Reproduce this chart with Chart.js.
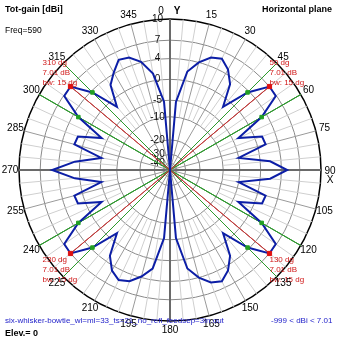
<!DOCTYPE html>
<html>
<head>
<meta charset="utf-8">
<script src="https://cdn.jsdelivr.net/npm/chart.js@4.4.1/dist/chart.umd.min.js"></script>
<style>
body { margin: 0; background: #fff; }
#wrap { position: relative; width: 339px; height: 339px; font-family: "Liberation Sans", Arial, sans-serif; }
#wrap div { position: absolute; white-space: nowrap; line-height: 10px; }
canvas { position: absolute; left: 0; top: 0; }
</style>
</head>
<body>
<div id="wrap">
<canvas id="polar" width="339" height="339"></canvas>
<div style="left:5px;top:4px;font-weight:bold;font-size:9px">Tot-gain [dBi]</div>
<div style="left:5px;top:25px;font-size:8.5px">Freq=590</div>
<div style="left:262px;top:4px;font-weight:bold;font-size:9px">Horizontal plane</div>
<div style="left:5px;top:316px;font-size:8px;color:#1c1cc8">six-whisker-bowtie_wl=ml=33_ts=21_no_refl_feedsep=3in.out</div>
<div style="left:271px;top:316px;font-size:8px;color:#1c1cc8">-999 &lt; dBi &lt; 7.01</div>
<div style="left:5px;top:328px;font-weight:bold;font-size:9px">Elev.= 0</div>
</div>
<script>
// azimuth in degrees, gain in dBi (-999 = no signal)
var angles = [0, 5, 10, 15, 20, 25, 30, 35, 40, 45, 50, 55, 60, 65, 70, 75, 80, 85,
              90, 95, 100, 105, 110, 115, 120, 125, 130, 135, 140, 145, 150, 155, 160, 165, 170, 175,
              180, 185, 190, 195, 200, 205, 210, 215, 220, 225, 230, 235, 240, 245, 250, 255, 260, 265,
              270, 275, 280, 285, 290, 295, 300, 305, 310, 315, 320, 325, 330, 335, 340, 345, 350, 355];
var gainDb = [-999, -5.4, 1.9, 4.0, 5.4, 5.9, 4.8, 2.8, -1.8, 3.7, 7.01, 6.9, 3.0, -3.5, 1.5, 1.7, -5.0, 2.0,
              5.0, 2.0, -5.0, 1.7, 1.5, -3.5, 3.0, 6.9, 7.01, 3.7, -1.8, 2.8, 4.8, 5.9, 5.4, 4.0, 1.9, -5.4,
              -999, -5.4, 1.9, 3.8, 5.2, 5.7, 4.8, 2.8, -1.8, 3.7, 7.01, 6.9, 3.0, -3.5, 1.5, 1.7, -5.0, 1.0,
              5.1, 1.0, -5.0, 1.7, 1.5, -3.5, 3.0, 6.9, 7.01, 3.7, -1.8, 2.6, 4.2, 5.7, 5.4, 4.1, 1.5, -5.3];
var peakAngles = [50, 130, 230, 310];
var peakDb = [7.01, 7.01, 7.01, 7.01];
var bwEdgeAngles = [45, 60, 120, 135, 225, 240, 300, 315];
var beamwidth = 15;
var ringDb = [-40, -30, -20, -10, -5, 0, 4, 7, 10];

// 4nec2 style compressed dB scale
var K = 0.0478;
var DB_FLOOR = -53;
var MINOR_FROM_DB = -10;
function toAxis(db) {
    return Math.exp(K * Math.max(db, DB_FLOOR));
}
function fromAxis(v) {
    return Math.log(v) / K;
}

var outerDb = ringDb[ringDb.length - 1];

var redLine = [];
var greenLine = [];
var greenDots = [];
var redDots = [];
for (var i = 0; i < angles.length; i++) {
    var p = peakAngles.indexOf(angles[i]);
    var e = bwEdgeAngles.indexOf(angles[i]);
    redLine.push(p >= 0 ? toAxis(peakDb[p]) : toAxis(DB_FLOOR));
    redDots.push(p >= 0 ? toAxis(peakDb[p]) : null);
    greenLine.push(e >= 0 ? toAxis(outerDb) : toAxis(DB_FLOOR));
    greenDots.push(e >= 0 ? toAxis(gainDb[i]) : null);
}

// minor spokes only outside the -10 dB ring
function minorGap(c) {
    var s = c.chart.scales.r;
    var R = s.drawingArea;
    var a = s.getDistanceFromCenterForValue(toAxis(MINOR_FROM_DB));
    return { R: R, a: a };
}

// angle labels centred just outside the outer ring, like 4nec2 does
var angleLabels = {
    id: 'angleLabels',
    afterDraw: function(chart) {
        var s = chart.scales.r;
        var ctx = chart.ctx;
        ctx.save();
        ctx.font = '10px "Liberation Sans", Arial, sans-serif';
        ctx.fillStyle = '#000';
        ctx.textAlign = 'center';
        ctx.textBaseline = 'middle';
        for (var i = 0; i < angles.length; i++) {
            var a = angles[i];
            if (a % 15 !== 0) continue;
            var pos = s.getPointPosition(i, s.drawingArea + 9);
            if (a === 0) {
                ctx.fillText('0', pos.x - 9, pos.y + 1);
                ctx.font = 'bold 10px "Liberation Sans", Arial, sans-serif';
                ctx.fillText('Y', pos.x + 7, pos.y + 1);
                ctx.font = '10px "Liberation Sans", Arial, sans-serif';
            } else if (a === 90) {
                ctx.fillText('90', pos.x, pos.y + 1);
                ctx.fillText('X', pos.x, pos.y + 10);
            } else {
                ctx.fillText(String(a), pos.x, pos.y);
            }
        }
        ctx.restore();
    }
};

var peakNotes = {
    id: 'peakNotes',
    afterDatasetsDraw: function(chart) {
        var meta = chart.getDatasetMeta(4);
        var ctx = chart.ctx;
        ctx.save();
        ctx.font = '8px "Liberation Sans", Arial, sans-serif';
        ctx.fillStyle = '#d01818';
        ctx.textBaseline = 'middle';
        ctx.textAlign = 'left';
        for (var i = 0; i < peakAngles.length; i++) {
            var a = peakAngles[i];
            var pt = meta.data[angles.indexOf(a)];
            var dx = a < 180 ? 0 : -28;
            var dy = (a < 90 || a > 270) ? -24 : 6;
            var lines = [a + ' dg', peakDb[i].toFixed(2) + ' dB', 'bw: ' + beamwidth + ' dg'];
            for (var j = 0; j < lines.length; j++) {
                ctx.fillText(lines[j], pt.x + dx, pt.y + dy + j * 10);
            }
        }
        ctx.restore();
    }
};

var ctx = document.getElementById('polar').getContext('2d');
var grafic = new Chart(ctx, {
    type: 'radar',
    data: {
        labels: angles,
        datasets: [{
            data: gainDb.map(toAxis),
            borderColor: '#0c1ea6',
            borderWidth: 2,
            pointRadius: 0,
            fill: false,
            order: 1
        }, {
            data: redLine,
            borderColor: '#c03a3a',
            borderWidth: 1,
            pointRadius: 0,
            fill: false,
            order: 2
        }, {
            data: greenLine,
            borderColor: '#2c9a2c',
            borderWidth: 1,
            pointRadius: 0,
            fill: false,
            order: 2
        }, {
            data: greenDots,
            showLine: false,
            pointStyle: 'rect',
            pointRadius: 2.5,
            pointBackgroundColor: '#22a022',
            pointBorderColor: '#22a022',
            order: 0
        }, {
            data: redDots,
            showLine: false,
            pointStyle: 'rect',
            pointRadius: 3,
            pointBackgroundColor: '#e01010',
            pointBorderColor: '#e01010',
            order: 0
        }]
    },
    options: {
        responsive: false,
        animation: false,
        layout: { padding: { left: 12, right: 10, top: 12, bottom: 10 } },
        plugins: {
            legend: { display: false },
            tooltip: { enabled: false }
        },
        scales: {
            r: {
                min: toAxis(DB_FLOOR),
                max: toAxis(outerDb),
                afterBuildTicks: function(scale) {
                    var t = [{ value: toAxis(DB_FLOOR) }];
                    for (var i = 0; i < ringDb.length; i++) {
                        t.push({ value: toAxis(ringDb[i]) });
                    }
                    scale.ticks = t;
                },
                ticks: {
                    showLabelBackdrop: false,
                    color: '#111',
                    font: { family: '"Liberation Sans", Arial, sans-serif', size: 10 },
                    callback: function(value) {
                        return Math.round(fromAxis(value)) + '         ';
                    }
                },
                grid: {
                    circular: true,
                    color: function(c) { return c.index === ringDb.length ? '#000' : '#8a8a8a'; },
                    lineWidth: function(c) { return c.index === ringDb.length ? 1.5 : 1; }
                },
                angleLines: {
                    color: function(c) {
                        if (c.index % 18 === 0) return '#6a6a6a';
                        if (c.index % 3 === 0) return '#9a9a9a';
                        return '#cfcfcf';
                    },
                    lineWidth: function(c) { return c.index % 18 === 0 ? 2 : 1; },
                    borderDash: function(c) {
                        if (c.index % 3 === 0) return [];
                        var g = minorGap(c);
                        return [g.R - g.a, g.a];
                    },
                    borderDashOffset: function(c) {
                        if (c.index % 3 === 0) return 0;
                        var g = minorGap(c);
                        return g.R - g.a;
                    }
                },
                pointLabels: { display: false }
            }
        }
    },
    plugins: [peakNotes, angleLabels]
});
</script>
</body>
</html>
